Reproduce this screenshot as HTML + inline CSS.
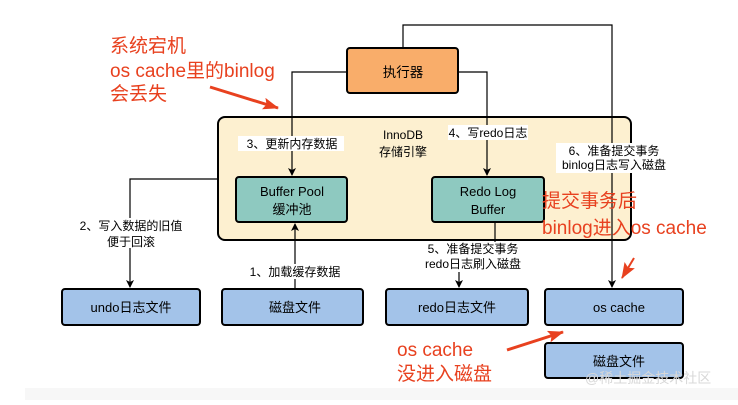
<!DOCTYPE html>
<html><head><meta charset="utf-8"><style>
body{margin:0;background:#fff;}
svg text{font-family:"Liberation Sans","Noto Sans CJK SC",sans-serif;}
</style></head><body>
<svg width="738" height="400" viewBox="0 0 738 400" xmlns="http://www.w3.org/2000/svg">
<defs><marker id="a" markerWidth="8" markerHeight="8" refX="7" refY="4" orient="auto" markerUnits="userSpaceOnUse"><path d="M0,0 L8,4 L0,8 L2,4 z" fill="#000"/></marker>
<marker id="r" markerWidth="16" markerHeight="12" refX="15" refY="6" orient="auto" markerUnits="userSpaceOnUse"><path d="M0,0 L16,6 L0,12 L3,6 z" fill="#e8411f"/></marker></defs>
<rect x="25" y="388" width="713" height="12" fill="#f7f7f7"/>
<rect x="218" y="117" width="413" height="123" rx="7" fill="#fdf0d0" stroke="#000" stroke-width="2"/>
<g stroke="#000" stroke-width="1.2" fill="none">
<path d="M347,72 H292 V175" marker-end="url(#a)"/>
<path d="M458,72 H487 V175" marker-end="url(#a)"/>
<path d="M403,48 V25 H612 V287" marker-end="url(#a)"/>
<path d="M218,179 H130 V287" marker-end="url(#a)"/>
<path d="M295,289 V224" marker-end="url(#a)"/>
<path d="M495,222 V245"/>
<path d="M459,270 V287" marker-end="url(#a)"/>
</g>
<rect x="347" y="48" width="111" height="45" rx="3" fill="#f9ad6a" stroke="#000" stroke-width="2"/>
<text x="403" y="77" font-size="13.5" text-anchor="middle">执行器</text>
<rect x="236" y="177" width="111" height="45" rx="3" fill="#8ec9c0" stroke="#000" stroke-width="2"/>
<text x="292" y="196" font-size="13" text-anchor="middle">Buffer Pool</text>
<text x="292" y="214" font-size="13" text-anchor="middle">缓冲池</text>
<rect x="432" y="177" width="112" height="45" rx="3" fill="#8ec9c0" stroke="#000" stroke-width="2"/>
<text x="488" y="196" font-size="13" text-anchor="middle">Redo Log</text>
<text x="488" y="214" font-size="13" text-anchor="middle">Buffer</text>
<g fill="#a3c3e9" stroke="#000" stroke-width="2">
<rect x="62" y="289" width="138" height="36" rx="3"/>
<rect x="222" y="289" width="141" height="36" rx="3"/>
<rect x="386" y="289" width="142" height="36" rx="3"/>
<rect x="545" y="289" width="138" height="36" rx="3"/>
<rect x="545" y="343" width="138" height="35" rx="3"/>
</g>
<g font-size="13" text-anchor="middle">
<text x="131" y="312">undo日志文件</text>
<text x="295" y="312">磁盘文件</text>
<text x="457" y="312">redo日志文件</text>
<text x="619" y="312">os cache</text>
<text x="619" y="366">磁盘文件</text>
</g>
<g font-size="12" text-anchor="middle">
<rect x="238" y="136" width="106" height="15" fill="#fff"/>
<text x="292" y="148">3、更新内存数据</text>
<text x="403" y="139">InnoDB</text>
<text x="403" y="156">存储引擎</text>
<rect x="448" y="125" width="80" height="15" fill="#fff"/>
<text x="488" y="137">4、写redo日志</text>
<rect x="556" y="143" width="118" height="30" fill="#fff"/>
<text x="614" y="155">6、准备提交事务</text>
<text x="614" y="169">binlog日志写入磁盘</text>
<rect x="70" y="218" width="120" height="30" fill="#fff"/>
<text x="131" y="230">2、写入数据的旧值</text>
<text x="131" y="246">便于回滚</text>
<rect x="240" y="264" width="110" height="15" fill="#fff"/>
<text x="295" y="276">1、加载缓存数据</text>
<rect x="418" y="242" width="110" height="30" fill="#fff"/>
<text x="473" y="253">5、准备提交事务</text>
<text x="473" y="268">redo日志刷入磁盘</text>
</g>
<g fill="#e8411f" font-size="19">
<text x="110" y="52">系统宕机</text>
<text x="110" y="77">os cache里的binlog</text>
<text x="110" y="100">会丢失</text>
<text x="542" y="207">提交事务后</text>
<text x="542" y="234">binlog进入os cache</text>
<text x="397" y="356">os cache</text>
<text x="397" y="380">没进入磁盘</text>
</g>
<g stroke="#e8411f" stroke-width="3" fill="none">
<path d="M210,87 L278,108" marker-end="url(#r)"/>
<path d="M634,258 L622,278" stroke-width="2" marker-end="url(#r)"/>
<path d="M507,350 L563,332" marker-end="url(#r)"/>
</g>
<text x="585" y="383" font-size="14" fill="#d8d8d8">@稀土掘金技术社区</text>
</svg>
</body></html>
